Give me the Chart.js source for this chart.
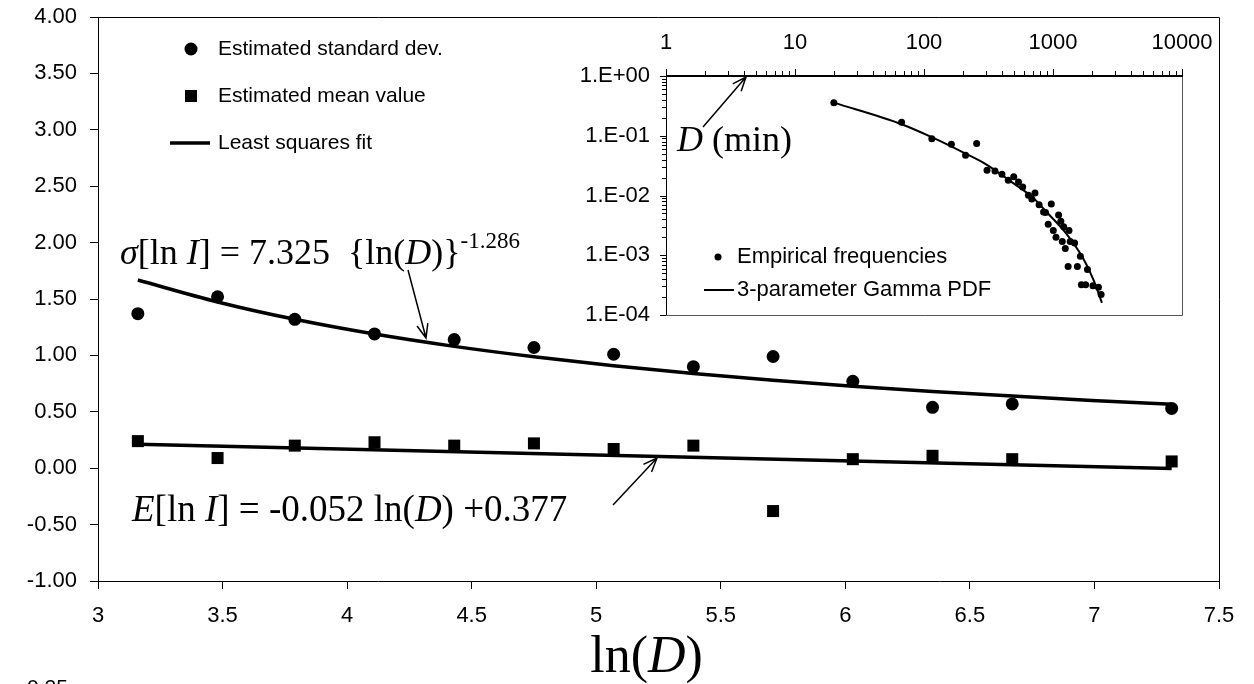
<!DOCTYPE html>
<html>
<head>
<meta charset="utf-8">
<script src="https://cdn.jsdelivr.net/npm/chart.js@4.4.0/dist/chart.umd.min.js"></script>
<style>
  html, body { margin: 0; padding: 0; background: #fff; }
  #wrap { position: relative; width: 1254px; height: 684px; overflow: hidden; }
  #main { position: absolute; left: 0; top: 0; }
  #inset { position: absolute; left: 560px; top: 20px; }
</style>
</head>
<body>
<div id="wrap">
  <canvas id="main" width="1254" height="684"></canvas>
  <canvas id="inset" width="680" height="310"></canvas>
</div>
<script>
// main plot: ln(D) classes and estimates
const lnD = [3.16, 3.48, 3.79, 4.11, 4.43, 4.75, 5.07, 5.39, 5.71, 6.03, 6.35, 6.67, 7.31];
const sdEst = [1.37, 1.52, 1.32, 1.19, 1.14, 1.07, 1.01, 0.90, 0.99, 0.77, 0.54, 0.57, 0.53];
const meanEst = [0.24, 0.09, 0.20, 0.23, 0.20, 0.22, 0.17, 0.20, -0.38, 0.08, 0.11, 0.08, 0.06];

// fitted curves, read at the class abscissas
const fitX = [3.16, 3.48, 3.79, 4.11, 4.43, 4.75, 5.07, 5.39, 5.71, 6.03, 6.35, 6.67, 6.99, 7.31];
const sdFit = [1.668, 1.474, 1.320, 1.189, 1.080, 0.988, 0.908, 0.839, 0.779, 0.727, 0.680, 0.639, 0.601, 0.567];
const meanFitX = [3.16, 7.31];
const meanFit = [0.213, -0.003];

const xTicks = [3, 3.5, 4, 4.5, 5, 5.5, 6, 6.5, 7, 7.5];
const yTicks = [-1, -0.5, 0, 0.5, 1, 1.5, 2, 2.5, 3, 3.5, 4];

// inset: empirical frequencies of durations D (min)
const durMin = [20, 67, 115, 163, 256, 210, 308, 355, 402, 450, 496, 540, 582, 645, 725, 685, 780, 845, 970, 875,
  1105, 918, 1150, 1005, 1210, 1330, 1055, 1180, 1360, 1470, 1245, 1630, 1310, 1545, 1850, 1660, 1790, 2040, 2250, 2360];
const empFreq = [0.355, 0.168, 0.089, 0.072, 0.074, 0.047, 0.0265, 0.0258, 0.0227, 0.018, 0.0205, 0.0169, 0.0139, 0.0101, 0.011, 0.0087, 0.007, 0.0053, 0.0072, 0.0052,
  0.0047, 0.0033, 0.0037, 0.0026, 0.003, 0.0026, 0.002, 0.0017, 0.0017, 0.0016, 0.0013, 0.00096, 0.00065, 0.00065, 0.00058, 0.00032, 0.00032, 0.00031, 0.00029, 0.00022];
const gammaD = [20, 67, 117, 210, 303, 476, 687, 914, 1267, 1687, 2068, 2395];
const gammaPdf = [0.358, 0.156, 0.093, 0.0503, 0.0333, 0.0169, 0.0095, 0.005, 0.00231, 0.00094, 0.00038, 0.00016];
const insetXTicks = [1, 10, 100, 1000, 10000];
const insetYTicks = [1, 0.1, 0.01, 0.001, 0.0001];

const SANS = '"Liberation Sans", Arial, sans-serif';
const SERIF = '"Liberation Serif", "Times New Roman", serif';

function pts(xs, ys) { return xs.map((x, i) => ({ x: x, y: ys[i] })); }

// draws text made of parts [text, italic, size, dy]
function richText(ctx, x, y, parts) {
  ctx.textBaseline = 'alphabetic';
  ctx.textAlign = 'left';
  parts.forEach(p => {
    ctx.font = (p[1] ? 'italic ' : '') + p[2] + 'px ' + SERIF;
    ctx.fillText(p[0], x, y + (p[3] || 0));
    x += ctx.measureText(p[0]).width;
  });
}

function arrow(ctx, x1, y1, x2, y2) {
  const a = Math.atan2(y2 - y1, x2 - x1), h = 15, w = 0.38;
  ctx.save();
  ctx.strokeStyle = '#000';
  ctx.lineWidth = 1.5;
  ctx.beginPath();
  ctx.moveTo(x1, y1);
  ctx.lineTo(x2, y2);
  ctx.moveTo(x2 - h * Math.cos(a - w), y2 - h * Math.sin(a - w));
  ctx.lineTo(x2, y2);
  ctx.lineTo(x2 - h * Math.cos(a + w), y2 - h * Math.sin(a + w));
  ctx.stroke();
  ctx.restore();
}

const mainDecor = {
  id: 'mainDecor',
  afterDraw(chart) {
    const ctx = chart.ctx, a = chart.chartArea;
    ctx.save();
    ctx.strokeStyle = '#000';
    ctx.lineWidth = 1;
    ctx.beginPath();
    ctx.moveTo(a.left, a.top + 0.5);
    ctx.lineTo(a.right + 0.5, a.top + 0.5);
    ctx.lineTo(a.right + 0.5, a.bottom);
    ctx.stroke();

    // legend
    ctx.fillStyle = '#000';
    ctx.beginPath();
    ctx.arc(191, 49, 6.5, 0, Math.PI * 2);
    ctx.fill();
    ctx.fillRect(185, 90, 12, 12);
    ctx.lineWidth = 3.5;
    ctx.beginPath();
    ctx.moveTo(170, 143);
    ctx.lineTo(210, 143);
    ctx.stroke();
    ctx.font = '21px ' + SANS;
    ctx.textBaseline = 'middle';
    ctx.textAlign = 'left';
    chart.data.datasets.slice(0, 3).forEach((d, i) => ctx.fillText(d.label, 218, 49 + i * 47));

    // fit equations
    richText(ctx, 120, 264, [['σ', true, 36], ['[ln ', false, 36], ['I', true, 36], ['] = 7.325  {ln(', false, 36],
      ['D', true, 36], [')}', false, 36], ['-1.286', false, 23, -16]]);
    arrow(ctx, 408, 270, 426, 338);
    richText(ctx, 132, 521, [['E', true, 37], ['[ln ', false, 37], ['I', true, 37], ['] = -0.052 ln(', false, 37],
      ['D', true, 37], [') +0.377', false, 37]]);
    arrow(ctx, 613, 505, 657, 458);

    // axis title
    ctx.font = '52px ' + SERIF;
    const w1 = ctx.measureText('ln(').width, w3 = ctx.measureText(')').width;
    ctx.font = 'italic 52px ' + SERIF;
    const w2 = ctx.measureText('D').width;
    const cx = (a.left + a.right) / 2 - 12;
    richText(ctx, cx - (w1 + w2 + w3) / 2, 672, [['ln(', false, 52], ['D', true, 52], [')', false, 52]]);

    // top of the next figure's label, cut by the page edge
    ctx.font = '21px ' + SANS;
    ctx.textBaseline = 'top';
    ctx.fillText('0.25', 27, 678);
    ctx.restore();
  }
};

new Chart(document.getElementById('main'), {
  type: 'scatter',
  data: {
    datasets: [
      { label: 'Estimated standard dev.', data: pts(lnD, sdEst), pointStyle: 'circle', pointRadius: 6.5,
        backgroundColor: '#000', borderColor: '#000', borderWidth: 0 },
      { label: 'Estimated mean value', data: pts(lnD, meanEst), pointStyle: 'rect', pointRadius: 8.5,
        backgroundColor: '#000', borderColor: '#000', borderWidth: 0 },
      { label: 'Least squares fit', type: 'line', data: pts(fitX, sdFit), borderColor: '#000', borderWidth: 3.5,
        pointRadius: 0, cubicInterpolationMode: 'monotone', fill: false },
      { label: 'fit mean', type: 'line', data: pts(meanFitX, meanFit), borderColor: '#000', borderWidth: 3.5,
        pointRadius: 0, fill: false }
    ]
  },
  options: {
    responsive: false,
    animation: false,
    events: [],
    layout: { padding: { top: 17, right: 35, left: 0, bottom: 0 } },
    plugins: { legend: { display: false }, tooltip: { enabled: false } },
    scales: {
      x: {
        type: 'linear', min: 3, max: 7.5,
        afterBuildTicks: s => { s.ticks = xTicks.map(v => ({ value: v })); },
        afterFit: s => { s.height = 103; s.paddingLeft = 0; s.paddingRight = 0; },
        grid: { drawOnChartArea: false, tickLength: 8, color: '#000' },
        border: { color: '#000', width: 1 },
        ticks: { color: '#000', font: { family: SANS, size: 22 }, padding: 14, maxRotation: 0, callback: v => String(v) }
      },
      y: {
        type: 'linear', min: -1, max: 4,
        afterBuildTicks: s => { s.ticks = yTicks.map(v => ({ value: v })); },
        afterFit: s => { s.width = 98; s.paddingTop = 0; s.paddingBottom = 0; },
        grid: { drawOnChartArea: false, tickLength: 8, color: '#000' },
        border: { color: '#000', width: 1 },
        ticks: { color: '#000', font: { family: SANS, size: 22 }, padding: 13, callback: v => v.toFixed(2) }
      }
    }
  },
  plugins: [mainDecor]
});

function sciLabel(v) {
  const e = Math.round(Math.log10(v));
  return '1.E' + (e < 0 ? '-' : '+') + String(Math.abs(e)).padStart(2, '0');
}

const insetDecor = {
  id: 'insetDecor',
  afterDraw(chart) {
    const ctx = chart.ctx, a = chart.chartArea, sx = chart.scales.x, sy = chart.scales.y;
    ctx.save();
    ctx.strokeStyle = '#000';
    ctx.fillStyle = '#000';
    ctx.lineWidth = 1;
    ctx.beginPath();
    ctx.moveTo(a.left + 0.5, a.top);
    ctx.lineTo(a.left + 0.5, a.bottom + 0.5);
    ctx.stroke();
    ctx.strokeStyle = '#555';
    ctx.beginPath();
    ctx.moveTo(a.left, a.bottom + 0.5);
    ctx.lineTo(a.right + 0.5, a.bottom + 0.5);
    ctx.lineTo(a.right + 0.5, a.top);
    ctx.stroke();
    ctx.strokeStyle = '#000';
    ctx.lineWidth = 2;
    ctx.beginPath();
    ctx.moveTo(a.left, a.top);
    ctx.lineTo(a.right + 1, a.top);
    ctx.stroke();

    // log ticks
    ctx.lineWidth = 1;
    ctx.beginPath();
    for (let e = -4; e <= 0; e++) {
      const y = Math.round(sy.getPixelForValue(Math.pow(10, e))) + 0.5;
      ctx.moveTo(a.left - 6, y); ctx.lineTo(a.left, y);
      if (e < 0) for (let m = 2; m < 10; m++) {
        const ym = Math.round(sy.getPixelForValue(m * Math.pow(10, e))) + 0.5;
        ctx.moveTo(a.left - 4, ym); ctx.lineTo(a.left, ym);
      }
    }
    for (let e = 0; e <= 4; e++) {
      const x = Math.round(sx.getPixelForValue(Math.pow(10, e))) + 0.5;
      ctx.moveTo(x, a.top - 7); ctx.lineTo(x, a.top);
      if (e < 4) for (let m = 2; m < 10; m++) {
        const xm = Math.round(sx.getPixelForValue(m * Math.pow(10, e))) + 0.5;
        ctx.moveTo(xm, a.top - 5); ctx.lineTo(xm, a.top);
      }
    }
    ctx.stroke();

    ctx.font = '22px ' + SANS;
    ctx.textBaseline = 'middle';
    ctx.textAlign = 'right';
    insetYTicks.forEach(v => ctx.fillText(sciLabel(v), a.left - 16, sy.getPixelForValue(v)));
    ctx.textAlign = 'center';
    insetXTicks.forEach(v => ctx.fillText(String(v), sx.getPixelForValue(v), a.top - 33));

    // legend
    ctx.textAlign = 'left';
    ctx.beginPath();
    ctx.arc(158, 237, 3.5, 0, Math.PI * 2);
    ctx.fill();
    ctx.fillText('Empirical frequencies', 177, 237);
    ctx.lineWidth = 2;
    ctx.beginPath();
    ctx.moveTo(144, 270); ctx.lineTo(174, 270);
    ctx.stroke();
    ctx.fillText('3-parameter Gamma PDF', 177, 270);

    richText(ctx, 117, 131, [['D', true, 36], [' (min)', false, 36]]);
    arrow(ctx, 143, 107, 186, 57);
    ctx.restore();
  }
};

new Chart(document.getElementById('inset'), {
  type: 'scatter',
  data: {
    datasets: [
      { label: 'Empirical frequencies', data: pts(durMin, empFreq), pointRadius: 3.5,
        backgroundColor: '#000', borderWidth: 0 },
      { label: '3-parameter Gamma PDF', type: 'line', data: pts(gammaD, gammaPdf), borderColor: '#000',
        borderWidth: 2, pointRadius: 0, cubicInterpolationMode: 'monotone', fill: false }
    ]
  },
  options: {
    responsive: false,
    animation: false,
    events: [],
    layout: { padding: { left: 106, right: 58, top: 56, bottom: 15 } },
    plugins: { legend: { display: false }, tooltip: { enabled: false } },
    scales: {
      x: { type: 'logarithmic', min: 1, max: 10000, display: false },
      y: { type: 'logarithmic', min: 0.0001, max: 1, display: false }
    }
  },
  plugins: [insetDecor]
});
</script>
</body>
</html>
